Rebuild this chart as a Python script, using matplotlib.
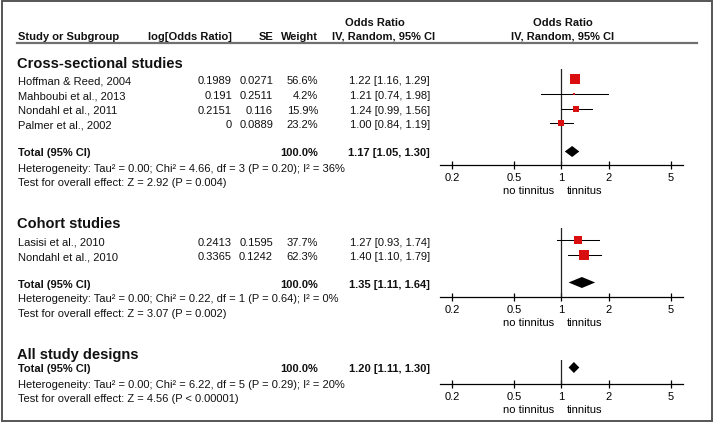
import matplotlib
matplotlib.use("Agg")
import matplotlib.pyplot as plt
import numpy as np

plt.rcParams['font.family'] = ['Liberation Sans', 'DejaVu Sans']

W, H = 714, 423

# ---- data ----
cs_names = ["Hoffman & Reed, 2004", "Mahboubi et al., 2013", "Nondahl et al., 2011", "Palmer et al., 2002"]
cs_logor = [0.1989, 0.191, 0.2151, 0]
cs_se = [0.0271, 0.2511, 0.116, 0.0889]
cs_weight = [56.6, 4.2, 15.9, 23.2]
cs_or = [1.22, 1.21, 1.24, 1.00]
cs_lo = [1.16, 0.74, 0.99, 0.84]
cs_hi = [1.29, 1.98, 1.56, 1.19]

co_names = ["Lasisi et al., 2010", "Nondahl et al., 2010"]
co_logor = [0.2413, 0.3365]
co_se = [0.1595, 0.1242]
co_weight = [37.7, 62.3]
co_or = [1.27, 1.40]
co_lo = [0.93, 1.10]
co_hi = [1.74, 1.79]

group_titles = ["Cross-sectional studies", "Cohort studies", "All study designs"]
total_or = [1.17, 1.35, 1.20]
total_lo = [1.05, 1.11, 1.11]
total_hi = [1.30, 1.64, 1.30]
het_text = ["Heterogeneity: Tau² = 0.00; Chi² = 4.66, df = 3 (P = 0.20); I² = 36%",
            "Heterogeneity: Tau² = 0.00; Chi² = 0.22, df = 1 (P = 0.64); I² = 0%",
            "Heterogeneity: Tau² = 0.00; Chi² = 6.22, df = 5 (P = 0.29); I² = 20%"]
z_text = ["Test for overall effect: Z = 2.92 (P = 0.004)",
          "Test for overall effect: Z = 3.07 (P = 0.002)",
          "Test for overall effect: Z = 4.56 (P < 0.00001)"]
ticks = [0.2, 0.5, 1, 2, 5]
tick_labels = ["0.2", "0.5", "1", "2", "5"]

# ---- layout (pixels) ----
FS = 8
RED = '#d90f0f'
X_NAME, X_LOG, X_SE, X_W, X_OR = 18, 232, 273, 318, 430
PX0, PX1 = 440, 683
XLO, XHI = 0.168, 5.96
ROW = 14.6

fig = plt.figure(figsize=(W / 100, H / 100), dpi=100)
bg = fig.add_axes([0, 0, 1, 1])
bg.set_xlim(0, W)
bg.set_ylim(H, 0)
bg.axis('off')


def txt(x, y, s, ha='left', bold=False, size=FS):
    bg.text(x, y + 3.5, s, ha=ha, va='baseline', fontsize=size,
            fontweight='bold' if bold else 'normal', color='#111111')


# outer frame and header
bg.add_patch(plt.Rectangle((2, 1), 710, 420, fill=False, ec='#555555', lw=1.4))
bg.plot([17, 697], [43, 43], color='#707070', lw=1.6)
txt(375, 22, "Odds Ratio", ha='center', bold=True)
txt(563, 22, "Odds Ratio", ha='center', bold=True)
txt(X_NAME, 36, "Study or Subgroup", bold=True)
txt(X_LOG, 36, "log[Odds Ratio]", ha='right', bold=True)
txt(X_SE, 36, "SE", ha='right', bold=True)
txt(X_W, 36, "Weight", ha='right', bold=True)
txt(384, 36, "IV, Random, 95% CI", ha='center', bold=True)
txt(563, 36, "IV, Random, 95% CI", ha='center', bold=True)


def forest_axes(top, axis_y):
    ax = fig.add_axes([PX0 / W, 1 - axis_y / H, (PX1 - PX0) / W, (axis_y - top) / H])
    ax.patch.set_alpha(0)
    ax.set_xscale('log')
    ax.set_xlim(XLO, XHI)
    ax.set_ylim(axis_y, top)
    for s in ['top', 'left', 'right']:
        ax.spines[s].set_visible(False)
    ax.spines['bottom'].set_linewidth(0.9)
    ax.set_xticks(ticks)
    ax.set_xticklabels(tick_labels)
    ax.minorticks_off()
    ax.tick_params(axis='x', direction='inout', length=6, width=0.9, pad=2.5, labelsize=FS)
    ax.set_yticks([])
    ax.axvline(1, color='#222222', lw=0.9)
    bg.text(554, axis_y + 25.5 + 3.5, "no tinnitus", ha='right', va='baseline', fontsize=FS)
    bg.text(567, axis_y + 25.5 + 3.5, "tinnitus", ha='left', va='baseline', fontsize=FS)
    return ax


def diamond(ax, y, est, lo, hi, h=5.5):
    ax.fill([lo, est, hi, est], [y, y - h, y, y + h], color='black', lw=0)


def group(title_y, names, logor, se, weight, orv, lo, hi, total_y, g, top, axis_y):
    txt(X_NAME - 1, title_y, group_titles[g], bold=True, size=10.5)
    ax = forest_axes(top, axis_y)
    for i, name in enumerate(names):
        y = title_y + 17 + i * ROW
        txt(X_NAME, y, name)
        txt(X_LOG, y, f"{logor[i]:g}", ha='right')
        txt(X_SE, y, f"{se[i]:g}", ha='right')
        txt(X_W, y, f"{weight[i]:.1f}%", ha='right')
        txt(X_OR, y, f"{orv[i]:.2f} [{lo[i]:.2f}, {hi[i]:.2f}]", ha='right')
        ax.plot([lo[i], hi[i]], [y - 1.5, y - 1.5], color='black', lw=0.75)
        side = 1.35 * np.sqrt(weight[i]) * 0.72
        ax.plot(orv[i], y - 1.5, marker='s', ms=side, color=RED, mec=RED, mew=0)
    txt(X_NAME, total_y, "Total (95% CI)", bold=True)
    txt(X_W, total_y, "100.0%", ha='right', bold=True)
    txt(X_OR, total_y, f"{total_or[g]:.2f} [{total_lo[g]:.2f}, {total_hi[g]:.2f}]", ha='right', bold=True)
    diamond(ax, total_y - 1.5, total_or[g], total_lo[g], total_hi[g])
    txt(X_NAME, total_y + 15, het_text[g])
    txt(X_NAME, total_y + 29.5, z_text[g])


group(64, cs_names, cs_logor, cs_se, cs_weight, cs_or, cs_lo, cs_hi, 153, 0, 69, 165)
group(225, co_names, co_logor, co_se, co_weight, co_or, co_lo, co_hi, 284, 1, 228, 297)
group(355, [], [], [], [], [], [], [], 369, 2, 360, 384)

fig.savefig("out.png", dpi=100)
